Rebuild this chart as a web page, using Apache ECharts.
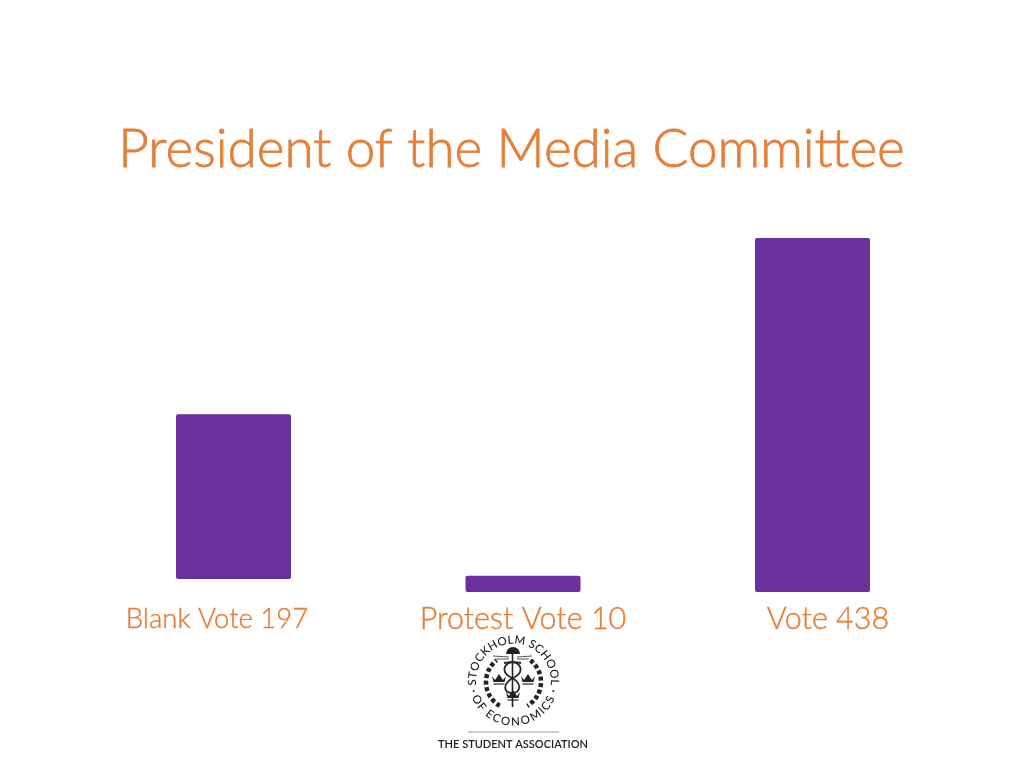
<!DOCTYPE html>
<html>
<head>
<meta charset="utf-8">
<style>html,body{margin:0;padding:0;background:#fff}#c{width:1024px;height:768px}</style>
<script src="https://cdn.jsdelivr.net/npm/echarts@6/dist/echarts.min.js"></script>
</head>
<body>
<div id="c"></div>
<script>
// Tick labels as printed in the picture
const categories = ['Blank Vote 197', 'Protest Vote 10', 'Vote 438'];
// Bar extents as drawn in the picture (same unit as the tallest bar = 438)
const barOffset = [16, 0, 0];
const barHeight = [204, 20, 438];
const titleText = 'President of the Media Committee';
const ringTop = 'STOCKHOLM SCHOOL';
const ringBottom = 'OF ECONOMICS';
const assocText = 'THE STUDENT ASSOCIATION';

const ORANGE = '#E5803A', PURPLE = '#6D2F9C', FONT = 'Lato', INK = '#222';
const cx = 513.5, cy = 681, R = 41;
const RING_FONT = '500 11.5px ' + FONT;
const logo = [];

const measure = document.createElement('canvas').getContext('2d');
measure.font = RING_FONT;
// Angle of each letter's centre, spread across the arc in proportion to its width
function arcAngles(str, startDeg, endDeg) {
  const widths = [...str].map(ch => measure.measureText(ch).width);
  const total = widths.reduce((s, w) => s + w, 0) - widths[0] / 2 - widths[widths.length - 1] / 2;
  let run = -widths[0] / 2;
  return widths.map(w => {
    const mid = run + w / 2;
    run += w;
    return (startDeg + (endDeg - startDeg) * mid / total) * Math.PI / 180;
  });
}
function letter(ch, x, y, rotation) {
  logo.push({ type: 'text', x, y, rotation, originX: 0, originY: 0,
    style: { text: ch, fill: INK, font: RING_FONT, align: 'center', verticalAlign: 'middle' } });
}
arcAngles(ringTop, -92, 92).forEach((a, i) => {
  letter(ringTop[i], cx + R * Math.sin(a), cy - R * Math.cos(a), -a);
});
arcAngles(ringBottom, -63, 63).forEach((b, i) => {
  letter(ringBottom[i], cx + R * Math.sin(b), cy + R * Math.cos(b), b);
});

// separators in the ring
[-104, 104].forEach(d => {
  const a = d * Math.PI / 180;
  logo.push({ type: 'circle', shape: { cx: cx + R * Math.sin(a), cy: cy - R * Math.cos(a), r: 1 }, style: { fill: INK } });
});
// wreath
[[-150, -38], [38, 150]].forEach(([s, e]) => {
  logo.push({ type: 'arc',
    shape: { cx, cy: cy + 1, r: 27.5, startAngle: (s - 90) * Math.PI / 180, endAngle: (e - 90) * Math.PI / 180 },
    style: { stroke: INK, fill: null, lineWidth: 4.5, lineDash: [4, 2.5] } });
});
function seg(x1, y1, x2, y2, stroke, lineWidth) {
  logo.push({ type: 'line', shape: { x1, y1, x2, y2 }, style: { stroke, lineWidth } });
}
// staff, dome and rays
seg(512.5, 652, 512.5, 707, INK, 1.6);
logo.push({ type: 'sector', shape: { cx: 513, cy: 654, r: 7, r0: 0, startAngle: Math.PI, endAngle: 2 * Math.PI }, style: { fill: INK } });
[[509, 657, 493, 656], [509, 659, 496, 659], [517, 657, 532, 656], [517, 659, 529, 659]]
  .forEach(s => seg(s[0], s[1], s[2], s[3], '#555', 1));
// snakes
[[521, 663, 503, 659, 500, 672, 510, 677], [510, 677, 523, 683, 521, 693, 512, 693],
 [512, 693, 503, 693, 502, 683, 515, 677], [515, 677, 525, 672, 522, 659, 504, 663]]
  .forEach(b => logo.push({ type: 'bezierCurve',
    shape: { x1: b[0], y1: b[1], cpx1: b[2], cpy1: b[3], cpx2: b[4], cpy2: b[5], x2: b[6], y2: b[7] },
    style: { stroke: INK, lineWidth: 1.8, fill: null } }));
// crowns
function crown(x, y) {
  logo.push({ type: 'polygon', shape: { points: [[x - 7, y - 3], [x - 4, y + 1], [x, y - 5], [x + 4, y + 1], [x + 7, y - 3], [x + 5.5, y + 3], [x - 5.5, y + 3]] }, style: { fill: INK } });
  seg(x - 5.5, y + 5, x + 5.5, y + 5, INK, 1.2);
}
crown(499, 679); crown(528, 679); crown(513, 695);
// rule and organisation line
seg(468, 732, 559, 732, '#999', 1);
logo.push({ type: 'text', x: 513, y: 744.5, style: { text: assocText, fill: INK, font: '600 11px ' + FONT, align: 'center', verticalAlign: 'middle' } });

const chart = echarts.init(document.getElementById('c'), null, { renderer: 'canvas' });
const labelBase = { fontFamily: FONT, color: ORANGE, fontWeight: 300, textBorderColor: ORANGE, textBorderWidth: 0.4 };
chart.setOption({
  animation: false,
  backgroundColor: '#fff',
  title: { text: titleText, left: 506.5, top: 118, textAlign: 'center',
    textStyle: { color: ORANGE, fontFamily: FONT, fontWeight: 300, fontSize: 53, textBorderColor: ORANGE, textBorderWidth: 0.8 } },
  grid: { left: 88.75, right: 66.75, top: 238, bottom: 176 },
  xAxis: {
    type: 'category', data: categories,
    axisLine: { show: false }, axisTick: { show: false },
    axisLabel: {
      margin: 12, interval: 0, color: ORANGE, fontFamily: FONT,
      formatter: (v, i) => `{l${i}|${v}}`,
      rich: {
        l0: { ...labelBase, fontSize: 27.5, padding: [1, 33, 0, 0] },
        l1: { ...labelBase, fontSize: 30.5 },
        l2: { ...labelBase, fontSize: 30.5, padding: [0, 0, 0, 31] }
      }
    }
  },
  yAxis: { type: 'value', min: 0, max: 438, show: false, splitLine: { show: false } },
  series: [
    { type: 'bar', stack: 's', barWidth: 115, data: barOffset, itemStyle: { color: 'transparent' }, silent: true },
    { type: 'bar', stack: 's', barWidth: 115, data: barHeight, itemStyle: { color: PURPLE, borderRadius: 2 } }
  ],
  graphic: { elements: logo }
});
</script>
</body>
</html>
